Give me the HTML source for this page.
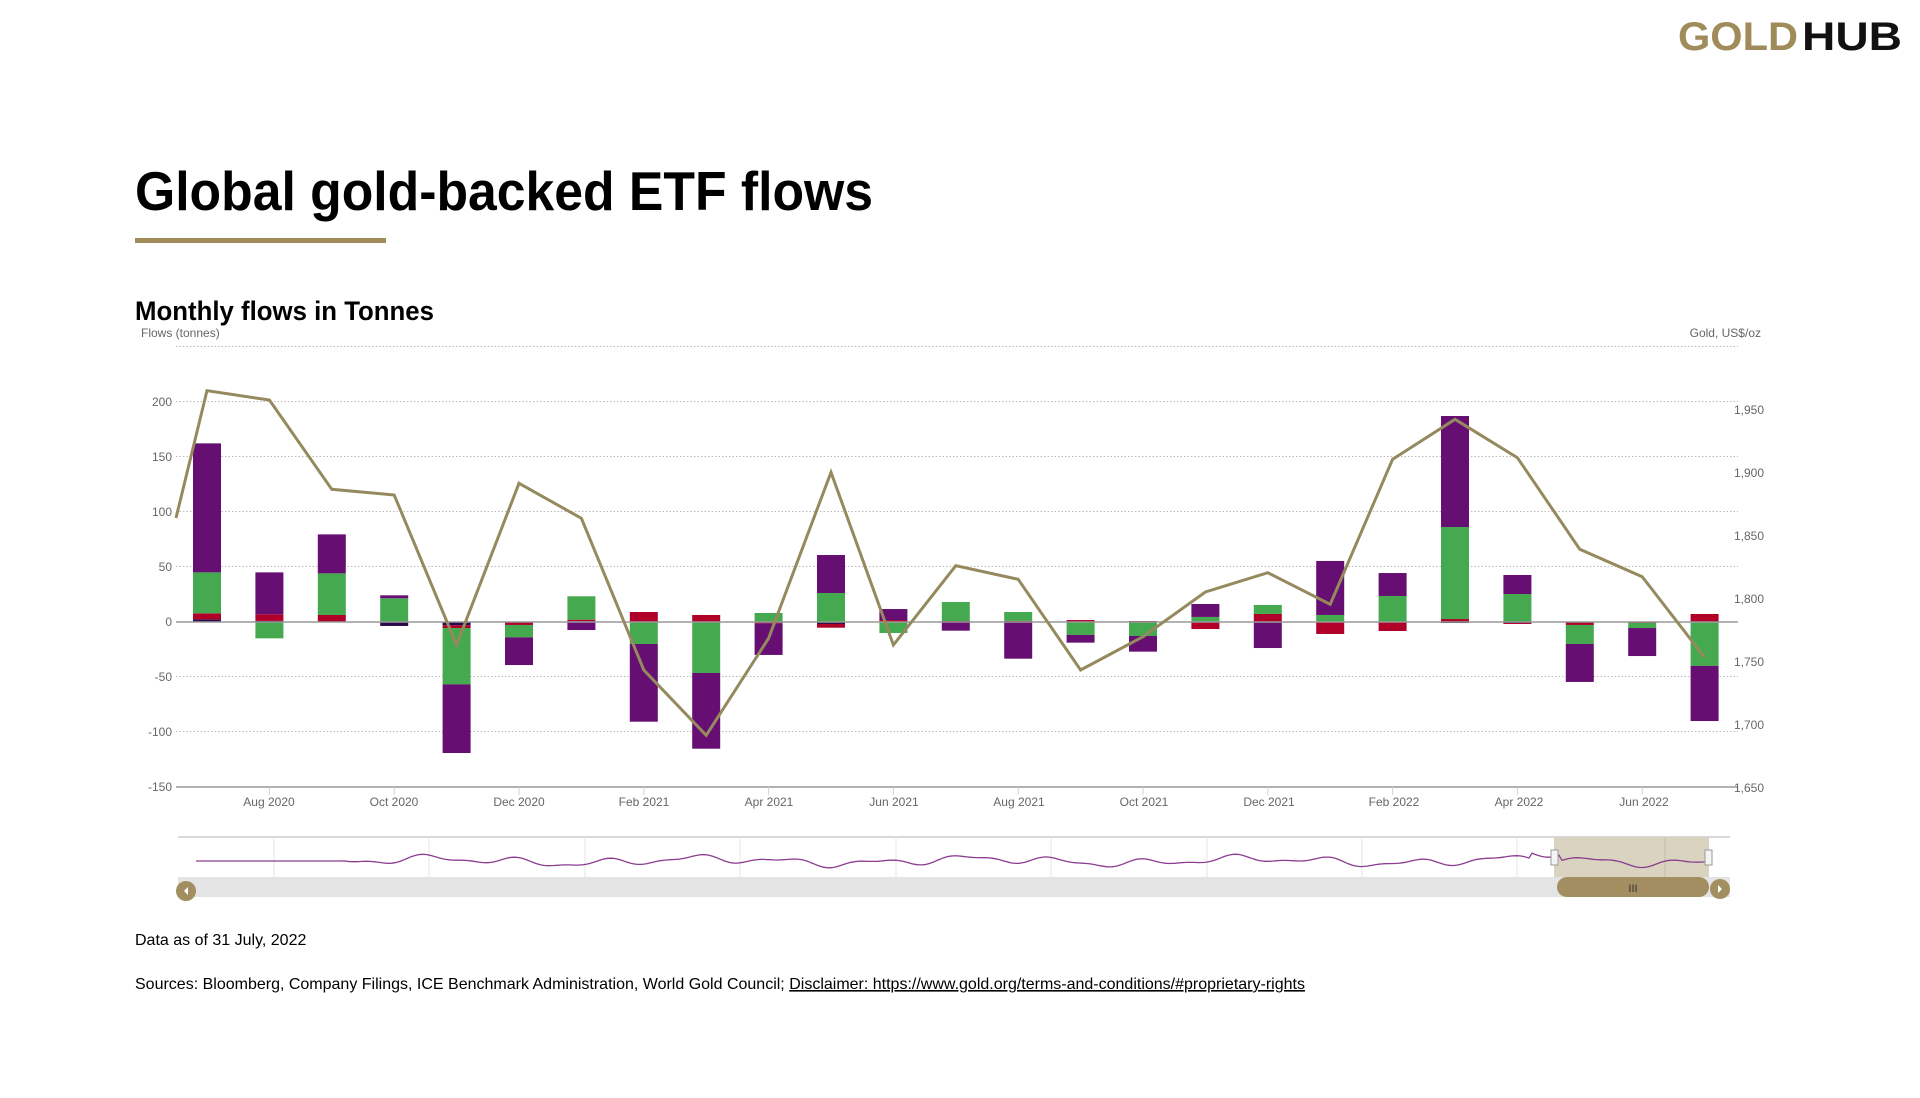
<!DOCTYPE html>
<html><head><meta charset="utf-8"><style>
html,body{margin:0;padding:0;background:#fff;}
svg{display:block;font-family:"Liberation Sans",Arial,sans-serif;}
</style></head><body>
<svg id="s" width="1920" height="1098" viewBox="0 0 1920 1098" xmlns="http://www.w3.org/2000/svg">
<text x="1678" y="50" font-size="40" font-weight="bold" fill="#a08c5b" textLength="120" lengthAdjust="spacingAndGlyphs">GOLD</text>
<text x="1802" y="50" font-size="40" font-weight="bold" fill="#111" textLength="100" lengthAdjust="spacingAndGlyphs">HUB</text>
<text x="135" y="210" font-size="55" font-weight="bold" fill="#000" textLength="738" lengthAdjust="spacingAndGlyphs">Global gold-backed ETF flows</text>
<rect x="135" y="238" width="251" height="5" fill="#a08c5b"/>
<text x="135" y="320" font-size="27" font-weight="bold" fill="#000" textLength="299" lengthAdjust="spacingAndGlyphs">Monthly flows in Tonnes</text>
<text x="141" y="337" font-size="12" fill="#666">Flows (tonnes)</text>
<text x="1761" y="337" font-size="12" fill="#666" text-anchor="end">Gold, US$/oz</text>
<g stroke="#bbb" stroke-width="1" stroke-dasharray="1.5,2">
<line x1="176" x2="1738" y1="346.5" y2="346.5"/><line x1="176" x2="1738" y1="401.5" y2="401.5"/>
<line x1="176" x2="1738" y1="456.5" y2="456.5"/><line x1="176" x2="1738" y1="511.5" y2="511.5"/>
<line x1="176" x2="1738" y1="566.5" y2="566.5"/><line x1="176" x2="1738" y1="676.5" y2="676.5"/>
<line x1="176" x2="1738" y1="731.5" y2="731.5"/>
</g>
<line x1="176" x2="1738" y1="787" y2="787" stroke="#999" stroke-width="1.5"/>
<g font-size="12" fill="#666" text-anchor="end">
<text x="172" y="406">200</text><text x="172" y="461">150</text><text x="172" y="516">100</text>
<text x="172" y="571">50</text><text x="172" y="626">0</text><text x="172" y="681">-50</text>
<text x="172" y="736">-100</text><text x="172" y="791">-150</text>
</g>
<g font-size="12" fill="#666">
<text x="1734" y="414">1,950</text><text x="1734" y="477">1,900</text><text x="1734" y="540">1,850</text>
<text x="1734" y="603">1,800</text><text x="1734" y="666">1,750</text><text x="1734" y="729">1,700</text>
<text x="1734" y="792">1,650</text>
</g>
<g stroke="#c8d4e6" stroke-width="1" id="ticks"></g>
<g font-size="12" fill="#666" text-anchor="middle">
<text x="269" y="806">Aug 2020</text><text x="394" y="806">Oct 2020</text><text x="519" y="806">Dec 2020</text>
<text x="644" y="806">Feb 2021</text><text x="769" y="806">Apr 2021</text><text x="894" y="806">Jun 2021</text>
<text x="1019" y="806">Aug 2021</text><text x="1144" y="806">Oct 2021</text><text x="1269" y="806">Dec 2021</text>
<text x="1394" y="806">Feb 2022</text><text x="1519" y="806">Apr 2022</text><text x="1644" y="806">Jun 2022</text>
</g>
<g id="bars"></g>
<line x1="176" x2="1738" y1="622" y2="622" stroke="#999" stroke-width="1.5"/>
<polyline id="gl" fill="none" stroke="#958a5e" stroke-width="3" stroke-linejoin="miter"/>
<line x1="178" x2="1730" y1="837" y2="837" stroke="#ccc" stroke-width="1.5"/>
<g stroke="#e4e4e4" stroke-width="1" id="navg"></g>
<rect x="1554" y="837" width="155" height="60" fill="#d8d1bd" opacity="0.95"/>
<line x1="1665" x2="1665" y1="837" y2="877" stroke="#c4bca6"/>
<polyline id="nav" fill="none" stroke="#8b3c91" stroke-width="1.3"/>
<rect x="178" y="877" width="1552" height="20" fill="#e4e4e4"/>
<rect x="1557" y="877" width="152" height="20" rx="10" fill="#a38e61"/>
<text x="1633" y="892" font-size="11" fill="#333" text-anchor="middle">III</text>
<circle cx="186" cy="891" r="10" fill="#a38e61"/><path d="M188,887 L184,891 L188,895Z" fill="#fff"/>
<circle cx="1720" cy="889" r="10" fill="#a38e61"/><path d="M1718,885 L1722,889 L1718,893Z" fill="#fff"/>
<rect x="1551" y="850" width="7" height="15" fill="#f4f4f4" stroke="#999"/>
<rect x="1705" y="850" width="7" height="15" fill="#f4f4f4" stroke="#999"/>
<text x="135" y="945" font-size="16" fill="#000">Data as of 31 July, 2022</text>
<text x="135" y="989" font-size="16" fill="#000">Sources: Bloomberg, Company Filings, ICE Benchmark Administration, World Gold Council; <tspan text-decoration="underline">Disclaimer: https://www.gold.org/terms-and-conditions/#proprietary-rights</tspan></text>
</svg>
<script>
var NS="http://www.w3.org/2000/svg";
var D=[[2.4,5.5,37.3,117.5],[1,6,-14.9,38.2],[0,6.4,37.9,35.5],[-3.6,0,21.6,2.7],[-3,-2.5,-51.3,-62.5],[0,-2.7,-11.3,-25.2],[0.7,1.4,21.3,-7.3],[-0.5,9.1,-19.5,-70.8],[-0.5,6.4,-45.9,-69],[0,-1.2,8.2,-28.8],[-1.8,-3.4,26.4,34.6],[-0.5,1.8,-9.5,10],[0,0.9,17.3,-7.9],[-0.8,1,8.1,-32.6],[0,1.8,-11.8,-7],[0,0.9,-12.7,-14.3],[0.5,-6.4,4.1,11.8],[-0.8,7.3,8.2,-22.9],[0.5,-10.9,5.9,49.2],[0,-8.2,23.7,20.9],[-0.9,2.7,83.8,101.1],[-0.9,-0.9,25.5,17.3],[0,-2.7,-17.3,-34.6],[0,-0.9,-4.6,-25.5],[-0.6,7.3,-39.4,-50.2]];
var C=["#2a0a4a","#b0002a","#44a94f","#660e72"];
var g=document.getElementById("bars"),k=1.098,z=622;
for(var i=0;i<D.length;i++){var cx=207+62.4*i,p=0,n=0;
for(var j=0;j<4;j++){var v=D[i][j];if(!v)continue;var r=document.createElementNS(NS,"rect");var y0,h=Math.abs(v)*k;
if(v>0){y0=z-(p+v)*k;p+=v;}else{y0=z-n*k;n+=v;}
r.setAttribute("x",cx-14);r.setAttribute("width",28);r.setAttribute("y",y0);r.setAttribute("height",h);r.setAttribute("fill",C[j]);g.appendChild(r);}}
var t=document.getElementById("ticks");
for(var i=1;i<25;i+=2){var l=document.createElementNS(NS,"line");var x=207+62.4*i;l.setAttribute("x1",x);l.setAttribute("x2",x);l.setAttribute("y1",787);l.setAttribute("y2",795);t.appendChild(l);}
var Y=[390.7,400,489.3,495,645,483.3,518.3,670,735.3,638.3,472.3,645,565.7,579.3,670,636.7,592,572.7,604.3,459.3,419.3,457.7,549.3,576.7,657.3];
var pts="176,518 ";for(var i=0;i<Y.length;i++)pts+=(207+62.4*i)+","+Y[i]+" ";
document.getElementById("gl").setAttribute("points",pts);
var ng=document.getElementById("navg");[274,429,585,740,896,1051,1207,1362,1517].forEach(function(x){var l=document.createElementNS(NS,"line");l.setAttribute("x1",x);l.setAttribute("x2",x);l.setAttribute("y1",837);l.setAttribute("y2",877);ng.appendChild(l);});
var s="196,861 340,861 ";
for(var x=344;x<=1709;x+=3){var y=861+Math.sin(x*0.07)*3+Math.sin(x*0.023+1)*2.5+Math.sin(x*0.131)*1.5;if(x>1530&&x<1560)y-=6;s+=x+","+y.toFixed(1)+" ";}
document.getElementById("nav").setAttribute("points",s);
</script>
</body></html>
